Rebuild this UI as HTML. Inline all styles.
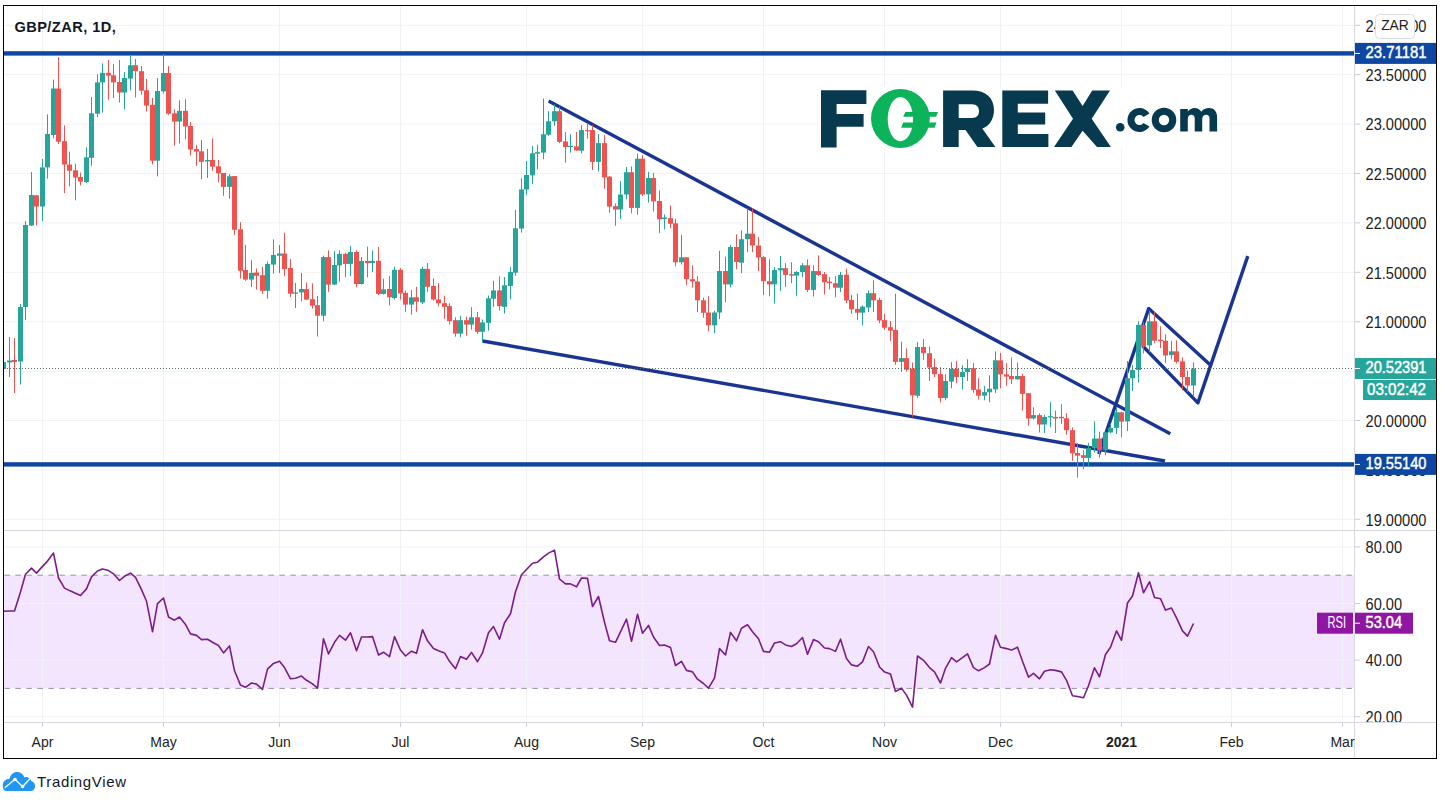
<!DOCTYPE html>
<html><head><meta charset="utf-8"><style>
html,body{margin:0;padding:0;background:#fff;width:1445px;height:805px;overflow:hidden;}
svg{display:block;}
</style></head><body>
<svg width="1445" height="805" viewBox="0 0 1445 805" font-family="'Liberation Sans', sans-serif">
<rect x="0" y="0" width="1445" height="805" fill="#fff"/>
<rect x="4" y="575.2" width="1350" height="113.2" fill="#f3e5fd"/>
<line x1="42.5" y1="6" x2="42.5" y2="722" stroke="#f1f2f5" stroke-width="1"/>
<line x1="163.5" y1="6" x2="163.5" y2="722" stroke="#f1f2f5" stroke-width="1"/>
<line x1="279.5" y1="6" x2="279.5" y2="722" stroke="#f1f2f5" stroke-width="1"/>
<line x1="400.5" y1="6" x2="400.5" y2="722" stroke="#f1f2f5" stroke-width="1"/>
<line x1="526.5" y1="6" x2="526.5" y2="722" stroke="#f1f2f5" stroke-width="1"/>
<line x1="642.5" y1="6" x2="642.5" y2="722" stroke="#f1f2f5" stroke-width="1"/>
<line x1="763.5" y1="6" x2="763.5" y2="722" stroke="#f1f2f5" stroke-width="1"/>
<line x1="884.5" y1="6" x2="884.5" y2="722" stroke="#f1f2f5" stroke-width="1"/>
<line x1="1000.5" y1="6" x2="1000.5" y2="722" stroke="#f1f2f5" stroke-width="1"/>
<line x1="1121.5" y1="6" x2="1121.5" y2="722" stroke="#f1f2f5" stroke-width="1"/>
<line x1="1231.5" y1="6" x2="1231.5" y2="722" stroke="#f1f2f5" stroke-width="1"/>
<line x1="1342.5" y1="6" x2="1342.5" y2="722" stroke="#f1f2f5" stroke-width="1"/>
<line x1="4" y1="25.3" x2="1354" y2="25.3" stroke="#f1f2f5" stroke-width="1"/>
<line x1="4" y1="74.7" x2="1354" y2="74.7" stroke="#f1f2f5" stroke-width="1"/>
<line x1="4" y1="124.1" x2="1354" y2="124.1" stroke="#f1f2f5" stroke-width="1"/>
<line x1="4" y1="173.5" x2="1354" y2="173.5" stroke="#f1f2f5" stroke-width="1"/>
<line x1="4" y1="222.9" x2="1354" y2="222.9" stroke="#f1f2f5" stroke-width="1"/>
<line x1="4" y1="272.3" x2="1354" y2="272.3" stroke="#f1f2f5" stroke-width="1"/>
<line x1="4" y1="321.7" x2="1354" y2="321.7" stroke="#f1f2f5" stroke-width="1"/>
<line x1="4" y1="371.1" x2="1354" y2="371.1" stroke="#f1f2f5" stroke-width="1"/>
<line x1="4" y1="420.5" x2="1354" y2="420.5" stroke="#f1f2f5" stroke-width="1"/>
<line x1="4" y1="469.9" x2="1354" y2="469.9" stroke="#f1f2f5" stroke-width="1"/>
<line x1="4" y1="519.3" x2="1354" y2="519.3" stroke="#f1f2f5" stroke-width="1"/>
<line x1="4" y1="546.9" x2="1354" y2="546.9" stroke="#f1f2f5" stroke-width="1"/>
<line x1="4" y1="603.5" x2="1354" y2="603.5" stroke="#f1f2f5" stroke-width="1"/>
<line x1="4" y1="660.1" x2="1354" y2="660.1" stroke="#f1f2f5" stroke-width="1"/>
<line x1="4" y1="716.7" x2="1354" y2="716.7" stroke="#f1f2f5" stroke-width="1"/>
<line x1="4.4" y1="575.2" x2="1354" y2="575.2" stroke="#9c8ea6" stroke-width="1" stroke-dasharray="5.5,5.5"/>
<line x1="4.4" y1="688.4" x2="1354" y2="688.4" stroke="#9c8ea6" stroke-width="1" stroke-dasharray="5.5,5.5"/>
<line x1="4" y1="530.5" x2="1436" y2="530.5" stroke="#d6d9e0" stroke-width="1"/>
<line x1="4" y1="722.5" x2="1436" y2="722.5" stroke="#d6d9e0" stroke-width="1"/>
<line x1="1354.5" y1="6" x2="1354.5" y2="758" stroke="#d6d9e0" stroke-width="1"/>
<rect x="4" y="51.2" width="1350" height="4.4" fill="#0d47a1"/>
<rect x="4" y="462.2" width="1350" height="4.4" fill="#0d47a1"/>
<line x1="548.6" y1="101" x2="1170.3" y2="433.7" stroke="#1a3492" stroke-width="3.4" stroke-linecap="butt"/>
<line x1="482.6" y1="341" x2="1165" y2="461" stroke="#1a3492" stroke-width="3.4" stroke-linecap="butt"/>
<polyline points="1098.7,454.1 1148.7,308.6 1209.8,364.4" fill="none" stroke="#1a3492" stroke-width="3.4" stroke-linejoin="round"/>
<polyline points="1142.7,346 1197.9,402.9 1247.8,256.1" fill="none" stroke="#1a3492" stroke-width="3.4" stroke-linejoin="round"/>
<g>
<rect x="3" y="360.0" width="1" height="12.0" fill="#26a69a"/>
<rect x="1" y="362.0" width="5" height="7.0" fill="#26a69a"/>
<rect x="9" y="337.0" width="1" height="40.0" fill="#26a69a"/>
<rect x="7" y="360.5" width="5" height="2.0" fill="#26a69a"/>
<rect x="14" y="338.0" width="1" height="55.0" fill="#ef5350"/>
<rect x="12" y="360.0" width="5" height="2.0" fill="#ef5350"/>
<rect x="20" y="304.0" width="1" height="80.5" fill="#26a69a"/>
<rect x="18" y="307.0" width="5" height="54.5" fill="#26a69a"/>
<rect x="25" y="221.0" width="1" height="99.0" fill="#26a69a"/>
<rect x="23" y="225.0" width="5" height="82.0" fill="#26a69a"/>
<rect x="31" y="172.0" width="1" height="54.0" fill="#26a69a"/>
<rect x="29" y="195.0" width="5" height="30.5" fill="#26a69a"/>
<rect x="36" y="195.0" width="1" height="30.5" fill="#ef5350"/>
<rect x="34" y="195.3" width="5" height="11.2" fill="#ef5350"/>
<rect x="42" y="159.0" width="1" height="62.0" fill="#26a69a"/>
<rect x="40" y="167.4" width="5" height="39.1" fill="#26a69a"/>
<rect x="47" y="114.4" width="1" height="64.2" fill="#26a69a"/>
<rect x="45" y="134.0" width="5" height="33.4" fill="#26a69a"/>
<rect x="53" y="79.7" width="1" height="58.6" fill="#26a69a"/>
<rect x="51" y="88.5" width="5" height="46.5" fill="#26a69a"/>
<rect x="58" y="57.2" width="1" height="86.7" fill="#ef5350"/>
<rect x="56" y="88.5" width="5" height="53.2" fill="#ef5350"/>
<rect x="64" y="125.4" width="1" height="67.7" fill="#ef5350"/>
<rect x="62" y="141.2" width="5" height="23.3" fill="#ef5350"/>
<rect x="69" y="151.7" width="1" height="34.7" fill="#ef5350"/>
<rect x="67" y="164.5" width="5" height="6.3" fill="#ef5350"/>
<rect x="75" y="163.6" width="1" height="36.7" fill="#ef5350"/>
<rect x="73" y="170.3" width="5" height="7.2" fill="#ef5350"/>
<rect x="80" y="172.5" width="1" height="12.8" fill="#ef5350"/>
<rect x="78" y="177.0" width="5" height="4.5" fill="#ef5350"/>
<rect x="86" y="147.3" width="1" height="35.7" fill="#26a69a"/>
<rect x="84" y="157.3" width="5" height="24.7" fill="#26a69a"/>
<rect x="91" y="97.0" width="1" height="68.8" fill="#26a69a"/>
<rect x="89" y="113.3" width="5" height="44.5" fill="#26a69a"/>
<rect x="97" y="74.2" width="1" height="42.8" fill="#26a69a"/>
<rect x="95" y="82.4" width="5" height="31.3" fill="#26a69a"/>
<rect x="102" y="63.4" width="1" height="49.2" fill="#26a69a"/>
<rect x="100" y="72.8" width="5" height="9.6" fill="#26a69a"/>
<rect x="108" y="60.0" width="1" height="39.6" fill="#ef5350"/>
<rect x="106" y="72.8" width="5" height="2.9" fill="#ef5350"/>
<rect x="113" y="63.9" width="1" height="34.1" fill="#ef5350"/>
<rect x="111" y="75.3" width="5" height="7.1" fill="#ef5350"/>
<rect x="119" y="60.0" width="1" height="42.5" fill="#ef5350"/>
<rect x="117" y="82.0" width="5" height="10.5" fill="#ef5350"/>
<rect x="124" y="72.0" width="1" height="37.3" fill="#26a69a"/>
<rect x="122" y="78.0" width="5" height="14.5" fill="#26a69a"/>
<rect x="130" y="55.6" width="1" height="34.7" fill="#26a69a"/>
<rect x="128" y="65.2" width="5" height="13.4" fill="#26a69a"/>
<rect x="135" y="59.0" width="1" height="38.4" fill="#ef5350"/>
<rect x="133" y="65.2" width="5" height="6.0" fill="#ef5350"/>
<rect x="141" y="66.0" width="1" height="28.7" fill="#ef5350"/>
<rect x="139" y="71.2" width="5" height="19.5" fill="#ef5350"/>
<rect x="146" y="79.0" width="1" height="32.5" fill="#ef5350"/>
<rect x="144" y="90.3" width="5" height="15.2" fill="#ef5350"/>
<rect x="152" y="98.0" width="1" height="66.5" fill="#ef5350"/>
<rect x="150" y="104.8" width="5" height="55.9" fill="#ef5350"/>
<rect x="157" y="78.0" width="1" height="98.3" fill="#26a69a"/>
<rect x="155" y="91.0" width="5" height="69.7" fill="#26a69a"/>
<rect x="163" y="54.0" width="1" height="39.6" fill="#26a69a"/>
<rect x="161" y="73.0" width="5" height="18.4" fill="#26a69a"/>
<rect x="168" y="66.1" width="1" height="48.7" fill="#ef5350"/>
<rect x="166" y="73.0" width="5" height="40.7" fill="#ef5350"/>
<rect x="174" y="109.3" width="1" height="36.4" fill="#ef5350"/>
<rect x="172" y="113.3" width="5" height="8.3" fill="#ef5350"/>
<rect x="179" y="100.3" width="1" height="43.2" fill="#26a69a"/>
<rect x="177" y="110.8" width="5" height="10.8" fill="#26a69a"/>
<rect x="185" y="99.2" width="1" height="40.2" fill="#ef5350"/>
<rect x="183" y="110.8" width="5" height="15.7" fill="#ef5350"/>
<rect x="190" y="122.0" width="1" height="33.5" fill="#ef5350"/>
<rect x="188" y="126.0" width="5" height="23.5" fill="#ef5350"/>
<rect x="196" y="145.0" width="1" height="20.8" fill="#ef5350"/>
<rect x="194" y="149.0" width="5" height="2.7" fill="#ef5350"/>
<rect x="201" y="139.9" width="1" height="39.3" fill="#ef5350"/>
<rect x="199" y="151.3" width="5" height="10.5" fill="#ef5350"/>
<rect x="207" y="149.0" width="1" height="28.9" fill="#26a69a"/>
<rect x="205" y="160.0" width="5" height="1.4" fill="#26a69a"/>
<rect x="212" y="138.3" width="1" height="32.4" fill="#ef5350"/>
<rect x="210" y="160.0" width="5" height="6.7" fill="#ef5350"/>
<rect x="218" y="160.0" width="1" height="22.4" fill="#ef5350"/>
<rect x="216" y="166.3" width="5" height="7.1" fill="#ef5350"/>
<rect x="223" y="173.0" width="1" height="22.8" fill="#ef5350"/>
<rect x="221" y="173.0" width="5" height="13.9" fill="#ef5350"/>
<rect x="229" y="174.1" width="1" height="24.6" fill="#26a69a"/>
<rect x="227" y="176.3" width="5" height="10.6" fill="#26a69a"/>
<rect x="234" y="176.0" width="1" height="58.9" fill="#ef5350"/>
<rect x="232" y="176.1" width="5" height="53.7" fill="#ef5350"/>
<rect x="240" y="222.2" width="1" height="56.3" fill="#ef5350"/>
<rect x="238" y="229.3" width="5" height="41.4" fill="#ef5350"/>
<rect x="245" y="245.0" width="1" height="35.8" fill="#ef5350"/>
<rect x="243" y="270.0" width="5" height="9.6" fill="#ef5350"/>
<rect x="251" y="260.2" width="1" height="26.8" fill="#26a69a"/>
<rect x="249" y="272.9" width="5" height="6.7" fill="#26a69a"/>
<rect x="256" y="268.5" width="1" height="21.2" fill="#ef5350"/>
<rect x="254" y="272.5" width="5" height="3.3" fill="#ef5350"/>
<rect x="262" y="266.9" width="1" height="26.8" fill="#ef5350"/>
<rect x="260" y="275.2" width="5" height="15.6" fill="#ef5350"/>
<rect x="267" y="261.7" width="1" height="36.9" fill="#26a69a"/>
<rect x="265" y="264.0" width="5" height="26.8" fill="#26a69a"/>
<rect x="273" y="239.4" width="1" height="34.2" fill="#26a69a"/>
<rect x="271" y="255.0" width="5" height="9.6" fill="#26a69a"/>
<rect x="279" y="245.0" width="1" height="27.9" fill="#26a69a"/>
<rect x="277" y="253.5" width="5" height="2.2" fill="#26a69a"/>
<rect x="284" y="232.7" width="1" height="43.1" fill="#ef5350"/>
<rect x="282" y="253.5" width="5" height="15.6" fill="#ef5350"/>
<rect x="290" y="259.0" width="1" height="37.9" fill="#ef5350"/>
<rect x="288" y="268.0" width="5" height="25.7" fill="#ef5350"/>
<rect x="295" y="283.0" width="1" height="25.0" fill="#26a69a"/>
<rect x="293" y="292.4" width="5" height="1.3" fill="#26a69a"/>
<rect x="301" y="272.9" width="1" height="28.4" fill="#26a69a"/>
<rect x="299" y="289.0" width="5" height="3.4" fill="#26a69a"/>
<rect x="306" y="282.4" width="1" height="17.6" fill="#ef5350"/>
<rect x="304" y="289.1" width="5" height="10.5" fill="#ef5350"/>
<rect x="312" y="283.3" width="1" height="25.3" fill="#ef5350"/>
<rect x="310" y="299.2" width="5" height="6.5" fill="#ef5350"/>
<rect x="317" y="295.8" width="1" height="40.7" fill="#ef5350"/>
<rect x="315" y="305.2" width="5" height="10.5" fill="#ef5350"/>
<rect x="323" y="255.6" width="1" height="65.7" fill="#26a69a"/>
<rect x="321" y="257.1" width="5" height="58.6" fill="#26a69a"/>
<rect x="328" y="250.4" width="1" height="41.4" fill="#ef5350"/>
<rect x="326" y="257.1" width="5" height="27.5" fill="#ef5350"/>
<rect x="334" y="251.1" width="1" height="33.9" fill="#26a69a"/>
<rect x="332" y="265.0" width="5" height="19.6" fill="#26a69a"/>
<rect x="339" y="250.4" width="1" height="31.3" fill="#26a69a"/>
<rect x="337" y="253.8" width="5" height="11.6" fill="#26a69a"/>
<rect x="345" y="252.7" width="1" height="24.6" fill="#ef5350"/>
<rect x="343" y="253.8" width="5" height="10.1" fill="#ef5350"/>
<rect x="350" y="246.0" width="1" height="30.2" fill="#26a69a"/>
<rect x="348" y="252.0" width="5" height="11.9" fill="#26a69a"/>
<rect x="356" y="250.4" width="1" height="36.9" fill="#ef5350"/>
<rect x="354" y="252.0" width="5" height="32.0" fill="#ef5350"/>
<rect x="361" y="257.1" width="1" height="27.4" fill="#26a69a"/>
<rect x="359" y="261.0" width="5" height="23.0" fill="#26a69a"/>
<rect x="367" y="246.6" width="1" height="30.7" fill="#ef5350"/>
<rect x="365" y="261.0" width="5" height="2.2" fill="#ef5350"/>
<rect x="372" y="250.3" width="1" height="21.7" fill="#26a69a"/>
<rect x="370" y="260.8" width="5" height="2.2" fill="#26a69a"/>
<rect x="378" y="247.0" width="1" height="48.0" fill="#ef5350"/>
<rect x="376" y="260.8" width="5" height="33.1" fill="#ef5350"/>
<rect x="383" y="278.7" width="1" height="15.8" fill="#26a69a"/>
<rect x="381" y="289.4" width="5" height="4.5" fill="#26a69a"/>
<rect x="389" y="276.0" width="1" height="29.5" fill="#ef5350"/>
<rect x="387" y="289.0" width="5" height="8.3" fill="#ef5350"/>
<rect x="394" y="266.6" width="1" height="32.9" fill="#26a69a"/>
<rect x="392" y="269.8" width="5" height="28.2" fill="#26a69a"/>
<rect x="400" y="268.2" width="1" height="31.3" fill="#ef5350"/>
<rect x="398" y="269.8" width="5" height="23.7" fill="#ef5350"/>
<rect x="405" y="290.6" width="1" height="21.2" fill="#ef5350"/>
<rect x="403" y="292.8" width="5" height="11.8" fill="#ef5350"/>
<rect x="411" y="289.9" width="1" height="24.6" fill="#26a69a"/>
<rect x="409" y="297.3" width="5" height="7.3" fill="#26a69a"/>
<rect x="416" y="286.8" width="1" height="25.0" fill="#ef5350"/>
<rect x="414" y="297.3" width="5" height="4.4" fill="#ef5350"/>
<rect x="422" y="266.6" width="1" height="37.4" fill="#26a69a"/>
<rect x="420" y="268.9" width="5" height="33.5" fill="#26a69a"/>
<rect x="427" y="263.0" width="1" height="28.7" fill="#ef5350"/>
<rect x="425" y="268.9" width="5" height="17.9" fill="#ef5350"/>
<rect x="433" y="278.3" width="1" height="22.3" fill="#ef5350"/>
<rect x="431" y="286.0" width="5" height="13.5" fill="#ef5350"/>
<rect x="438" y="283.2" width="1" height="23.0" fill="#ef5350"/>
<rect x="436" y="299.5" width="5" height="3.8" fill="#ef5350"/>
<rect x="444" y="295.6" width="1" height="23.2" fill="#ef5350"/>
<rect x="442" y="303.2" width="5" height="3.6" fill="#ef5350"/>
<rect x="449" y="303.2" width="1" height="21.4" fill="#ef5350"/>
<rect x="447" y="306.1" width="5" height="15.0" fill="#ef5350"/>
<rect x="455" y="317.3" width="1" height="19.4" fill="#ef5350"/>
<rect x="453" y="320.2" width="5" height="13.4" fill="#ef5350"/>
<rect x="460" y="315.7" width="1" height="21.7" fill="#26a69a"/>
<rect x="458" y="320.2" width="5" height="13.4" fill="#26a69a"/>
<rect x="466" y="316.6" width="1" height="19.2" fill="#ef5350"/>
<rect x="464" y="320.2" width="5" height="4.4" fill="#ef5350"/>
<rect x="471" y="307.2" width="1" height="22.4" fill="#26a69a"/>
<rect x="469" y="317.3" width="5" height="7.3" fill="#26a69a"/>
<rect x="477" y="312.1" width="1" height="21.9" fill="#ef5350"/>
<rect x="475" y="317.3" width="5" height="14.5" fill="#ef5350"/>
<rect x="482" y="319.5" width="1" height="23.0" fill="#26a69a"/>
<rect x="480" y="322.4" width="5" height="9.4" fill="#26a69a"/>
<rect x="488" y="295.6" width="1" height="35.1" fill="#26a69a"/>
<rect x="486" y="298.3" width="5" height="24.6" fill="#26a69a"/>
<rect x="493" y="280.8" width="1" height="26.0" fill="#26a69a"/>
<rect x="491" y="290.4" width="5" height="8.3" fill="#26a69a"/>
<rect x="499" y="276.4" width="1" height="34.2" fill="#ef5350"/>
<rect x="497" y="290.4" width="5" height="15.7" fill="#ef5350"/>
<rect x="504" y="277.0" width="1" height="36.5" fill="#26a69a"/>
<rect x="502" y="285.3" width="5" height="21.5" fill="#26a69a"/>
<rect x="510" y="267.0" width="1" height="32.4" fill="#26a69a"/>
<rect x="508" y="271.9" width="5" height="14.1" fill="#26a69a"/>
<rect x="515" y="210.0" width="1" height="65.8" fill="#26a69a"/>
<rect x="513" y="228.3" width="5" height="44.4" fill="#26a69a"/>
<rect x="521" y="178.3" width="1" height="54.2" fill="#26a69a"/>
<rect x="519" y="189.5" width="5" height="39.1" fill="#26a69a"/>
<rect x="526" y="161.1" width="1" height="34.0" fill="#26a69a"/>
<rect x="524" y="175.0" width="5" height="14.5" fill="#26a69a"/>
<rect x="532" y="145.9" width="1" height="38.0" fill="#26a69a"/>
<rect x="530" y="153.3" width="5" height="22.1" fill="#26a69a"/>
<rect x="537" y="144.8" width="1" height="24.6" fill="#26a69a"/>
<rect x="535" y="152.2" width="5" height="1.5" fill="#26a69a"/>
<rect x="543" y="98.5" width="1" height="60.8" fill="#26a69a"/>
<rect x="541" y="134.3" width="5" height="18.3" fill="#26a69a"/>
<rect x="548" y="111.2" width="1" height="24.6" fill="#26a69a"/>
<rect x="546" y="121.3" width="5" height="13.4" fill="#26a69a"/>
<rect x="554" y="104.5" width="1" height="21.3" fill="#26a69a"/>
<rect x="552" y="111.2" width="5" height="10.1" fill="#26a69a"/>
<rect x="559" y="106.8" width="1" height="36.4" fill="#ef5350"/>
<rect x="557" y="111.2" width="5" height="30.7" fill="#ef5350"/>
<rect x="565" y="132.0" width="1" height="30.7" fill="#ef5350"/>
<rect x="563" y="141.4" width="5" height="5.6" fill="#ef5350"/>
<rect x="570" y="134.3" width="1" height="18.3" fill="#26a69a"/>
<rect x="568" y="145.8" width="5" height="1.2" fill="#26a69a"/>
<rect x="576" y="132.0" width="1" height="19.0" fill="#ef5350"/>
<rect x="574" y="146.4" width="5" height="4.0" fill="#ef5350"/>
<rect x="581" y="125.2" width="1" height="28.4" fill="#26a69a"/>
<rect x="579" y="130.1" width="5" height="20.6" fill="#26a69a"/>
<rect x="587" y="123.0" width="1" height="15.6" fill="#ef5350"/>
<rect x="585" y="130.1" width="5" height="1.2" fill="#ef5350"/>
<rect x="592" y="125.2" width="1" height="44.8" fill="#ef5350"/>
<rect x="590" y="130.1" width="5" height="31.8" fill="#ef5350"/>
<rect x="598" y="134.1" width="1" height="37.4" fill="#26a69a"/>
<rect x="596" y="143.1" width="5" height="18.8" fill="#26a69a"/>
<rect x="604" y="135.0" width="1" height="53.7" fill="#ef5350"/>
<rect x="602" y="143.1" width="5" height="34.4" fill="#ef5350"/>
<rect x="609" y="176.0" width="1" height="36.9" fill="#ef5350"/>
<rect x="607" y="176.6" width="5" height="30.0" fill="#ef5350"/>
<rect x="615" y="203.5" width="1" height="22.3" fill="#ef5350"/>
<rect x="613" y="206.2" width="5" height="3.3" fill="#ef5350"/>
<rect x="620" y="181.1" width="1" height="38.0" fill="#26a69a"/>
<rect x="618" y="194.5" width="5" height="15.0" fill="#26a69a"/>
<rect x="626" y="167.0" width="1" height="32.4" fill="#26a69a"/>
<rect x="624" y="172.2" width="5" height="22.3" fill="#26a69a"/>
<rect x="631" y="166.4" width="1" height="46.9" fill="#ef5350"/>
<rect x="629" y="172.2" width="5" height="35.7" fill="#ef5350"/>
<rect x="637" y="153.6" width="1" height="61.1" fill="#26a69a"/>
<rect x="635" y="158.7" width="5" height="49.2" fill="#26a69a"/>
<rect x="642" y="155.2" width="1" height="40.9" fill="#ef5350"/>
<rect x="640" y="158.7" width="5" height="35.8" fill="#ef5350"/>
<rect x="648" y="171.9" width="1" height="30.6" fill="#26a69a"/>
<rect x="646" y="178.0" width="5" height="16.3" fill="#26a69a"/>
<rect x="653" y="172.8" width="1" height="38.7" fill="#ef5350"/>
<rect x="651" y="178.0" width="5" height="23.4" fill="#ef5350"/>
<rect x="659" y="190.2" width="1" height="43.0" fill="#ef5350"/>
<rect x="657" y="201.0" width="5" height="18.3" fill="#ef5350"/>
<rect x="664" y="214.4" width="1" height="15.0" fill="#26a69a"/>
<rect x="662" y="217.5" width="5" height="1.5" fill="#26a69a"/>
<rect x="670" y="205.5" width="1" height="22.8" fill="#ef5350"/>
<rect x="668" y="218.2" width="5" height="5.6" fill="#ef5350"/>
<rect x="675" y="218.9" width="1" height="47.4" fill="#ef5350"/>
<rect x="673" y="223.3" width="5" height="39.0" fill="#ef5350"/>
<rect x="681" y="235.0" width="1" height="29.5" fill="#26a69a"/>
<rect x="679" y="257.3" width="5" height="5.0" fill="#26a69a"/>
<rect x="686" y="257.0" width="1" height="28.3" fill="#ef5350"/>
<rect x="684" y="257.3" width="5" height="21.9" fill="#ef5350"/>
<rect x="692" y="265.2" width="1" height="22.3" fill="#ef5350"/>
<rect x="690" y="279.2" width="5" height="2.3" fill="#ef5350"/>
<rect x="697" y="276.3" width="1" height="35.8" fill="#ef5350"/>
<rect x="695" y="281.5" width="5" height="18.8" fill="#ef5350"/>
<rect x="703" y="297.6" width="1" height="20.1" fill="#ef5350"/>
<rect x="701" y="300.3" width="5" height="12.5" fill="#ef5350"/>
<rect x="708" y="296.2" width="1" height="35.1" fill="#ef5350"/>
<rect x="706" y="312.5" width="5" height="12.8" fill="#ef5350"/>
<rect x="714" y="310.8" width="1" height="22.3" fill="#26a69a"/>
<rect x="712" y="312.5" width="5" height="12.8" fill="#26a69a"/>
<rect x="719" y="250.8" width="1" height="68.4" fill="#26a69a"/>
<rect x="717" y="271.0" width="5" height="41.5" fill="#26a69a"/>
<rect x="725" y="256.6" width="1" height="45.7" fill="#ef5350"/>
<rect x="723" y="271.0" width="5" height="13.4" fill="#ef5350"/>
<rect x="730" y="244.8" width="1" height="42.5" fill="#26a69a"/>
<rect x="728" y="247.0" width="5" height="37.4" fill="#26a69a"/>
<rect x="736" y="234.3" width="1" height="35.1" fill="#ef5350"/>
<rect x="734" y="247.0" width="5" height="15.0" fill="#ef5350"/>
<rect x="741" y="230.3" width="1" height="42.9" fill="#26a69a"/>
<rect x="739" y="239.2" width="5" height="23.5" fill="#26a69a"/>
<rect x="747" y="208.3" width="1" height="43.9" fill="#26a69a"/>
<rect x="745" y="233.6" width="5" height="5.6" fill="#26a69a"/>
<rect x="752" y="208.3" width="1" height="43.9" fill="#ef5350"/>
<rect x="750" y="233.6" width="5" height="11.9" fill="#ef5350"/>
<rect x="758" y="237.0" width="1" height="34.0" fill="#ef5350"/>
<rect x="756" y="245.5" width="5" height="12.0" fill="#ef5350"/>
<rect x="763" y="256.0" width="1" height="39.1" fill="#ef5350"/>
<rect x="761" y="257.1" width="5" height="24.1" fill="#ef5350"/>
<rect x="769" y="259.3" width="1" height="36.9" fill="#ef5350"/>
<rect x="767" y="281.2" width="5" height="3.2" fill="#ef5350"/>
<rect x="774" y="267.1" width="1" height="36.5" fill="#26a69a"/>
<rect x="772" y="270.0" width="5" height="14.4" fill="#26a69a"/>
<rect x="780" y="255.9" width="1" height="35.3" fill="#26a69a"/>
<rect x="778" y="268.2" width="5" height="2.2" fill="#26a69a"/>
<rect x="785" y="263.1" width="1" height="23.7" fill="#ef5350"/>
<rect x="783" y="268.2" width="5" height="6.7" fill="#ef5350"/>
<rect x="791" y="262.2" width="1" height="21.0" fill="#ef5350"/>
<rect x="789" y="274.2" width="5" height="1.4" fill="#ef5350"/>
<rect x="796" y="271.1" width="1" height="24.6" fill="#26a69a"/>
<rect x="794" y="272.0" width="5" height="3.6" fill="#26a69a"/>
<rect x="802" y="263.1" width="1" height="14.0" fill="#26a69a"/>
<rect x="800" y="265.3" width="5" height="6.7" fill="#26a69a"/>
<rect x="807" y="259.3" width="1" height="32.8" fill="#ef5350"/>
<rect x="805" y="265.3" width="5" height="24.6" fill="#ef5350"/>
<rect x="813" y="265.3" width="1" height="31.3" fill="#26a69a"/>
<rect x="811" y="271.1" width="5" height="18.8" fill="#26a69a"/>
<rect x="818" y="255.5" width="1" height="20.5" fill="#ef5350"/>
<rect x="816" y="271.1" width="5" height="3.8" fill="#ef5350"/>
<rect x="824" y="272.0" width="1" height="22.4" fill="#ef5350"/>
<rect x="822" y="274.2" width="5" height="8.1" fill="#ef5350"/>
<rect x="829" y="277.1" width="1" height="12.3" fill="#ef5350"/>
<rect x="827" y="281.6" width="5" height="1.6" fill="#ef5350"/>
<rect x="835" y="276.0" width="1" height="21.3" fill="#ef5350"/>
<rect x="833" y="283.2" width="5" height="4.5" fill="#ef5350"/>
<rect x="840" y="272.0" width="1" height="20.1" fill="#26a69a"/>
<rect x="838" y="274.9" width="5" height="12.8" fill="#26a69a"/>
<rect x="846" y="268.6" width="1" height="34.5" fill="#ef5350"/>
<rect x="844" y="274.7" width="5" height="25.7" fill="#ef5350"/>
<rect x="851" y="294.8" width="1" height="19.0" fill="#ef5350"/>
<rect x="849" y="299.9" width="5" height="9.4" fill="#ef5350"/>
<rect x="857" y="293.7" width="1" height="26.4" fill="#ef5350"/>
<rect x="855" y="308.9" width="5" height="3.8" fill="#ef5350"/>
<rect x="862" y="305.3" width="1" height="20.1" fill="#26a69a"/>
<rect x="860" y="306.6" width="5" height="6.1" fill="#26a69a"/>
<rect x="868" y="290.3" width="1" height="21.7" fill="#26a69a"/>
<rect x="866" y="293.2" width="5" height="14.3" fill="#26a69a"/>
<rect x="873" y="280.3" width="1" height="31.7" fill="#ef5350"/>
<rect x="871" y="293.2" width="5" height="7.2" fill="#ef5350"/>
<rect x="879" y="297.7" width="1" height="25.5" fill="#ef5350"/>
<rect x="877" y="299.9" width="5" height="20.6" fill="#ef5350"/>
<rect x="884" y="313.8" width="1" height="16.1" fill="#ef5350"/>
<rect x="882" y="320.1" width="5" height="7.6" fill="#ef5350"/>
<rect x="890" y="321.0" width="1" height="20.1" fill="#ef5350"/>
<rect x="888" y="327.2" width="5" height="3.4" fill="#ef5350"/>
<rect x="895" y="293.7" width="1" height="71.1" fill="#ef5350"/>
<rect x="893" y="329.9" width="5" height="32.0" fill="#ef5350"/>
<rect x="901" y="341.7" width="1" height="30.2" fill="#26a69a"/>
<rect x="899" y="358.1" width="5" height="3.8" fill="#26a69a"/>
<rect x="906" y="348.5" width="1" height="23.0" fill="#ef5350"/>
<rect x="904" y="358.1" width="5" height="11.6" fill="#ef5350"/>
<rect x="912" y="362.5" width="1" height="54.2" fill="#ef5350"/>
<rect x="910" y="368.6" width="5" height="26.8" fill="#ef5350"/>
<rect x="917" y="342.0" width="1" height="56.0" fill="#26a69a"/>
<rect x="915" y="347.0" width="5" height="48.7" fill="#26a69a"/>
<rect x="923" y="339.1" width="1" height="20.8" fill="#ef5350"/>
<rect x="921" y="347.0" width="5" height="6.2" fill="#ef5350"/>
<rect x="929" y="346.5" width="1" height="34.5" fill="#ef5350"/>
<rect x="927" y="353.2" width="5" height="14.3" fill="#ef5350"/>
<rect x="934" y="358.6" width="1" height="18.5" fill="#ef5350"/>
<rect x="932" y="367.1" width="5" height="7.1" fill="#ef5350"/>
<rect x="940" y="367.1" width="1" height="35.3" fill="#ef5350"/>
<rect x="938" y="374.2" width="5" height="23.8" fill="#ef5350"/>
<rect x="945" y="374.2" width="1" height="26.0" fill="#26a69a"/>
<rect x="943" y="381.0" width="5" height="17.0" fill="#26a69a"/>
<rect x="951" y="362.2" width="1" height="26.1" fill="#26a69a"/>
<rect x="949" y="368.9" width="5" height="12.7" fill="#26a69a"/>
<rect x="956" y="360.8" width="1" height="22.4" fill="#ef5350"/>
<rect x="954" y="368.9" width="5" height="8.2" fill="#ef5350"/>
<rect x="962" y="365.3" width="1" height="24.1" fill="#26a69a"/>
<rect x="960" y="372.0" width="5" height="5.1" fill="#26a69a"/>
<rect x="967" y="359.3" width="1" height="21.7" fill="#26a69a"/>
<rect x="965" y="368.2" width="5" height="3.8" fill="#26a69a"/>
<rect x="973" y="363.1" width="1" height="29.7" fill="#ef5350"/>
<rect x="971" y="368.2" width="5" height="21.7" fill="#ef5350"/>
<rect x="978" y="378.3" width="1" height="21.2" fill="#ef5350"/>
<rect x="976" y="389.4" width="5" height="6.3" fill="#ef5350"/>
<rect x="984" y="386.1" width="1" height="14.1" fill="#26a69a"/>
<rect x="982" y="392.1" width="5" height="3.6" fill="#26a69a"/>
<rect x="989" y="375.3" width="1" height="26.8" fill="#26a69a"/>
<rect x="987" y="388.7" width="5" height="3.6" fill="#26a69a"/>
<rect x="995" y="351.4" width="1" height="41.8" fill="#26a69a"/>
<rect x="993" y="360.3" width="5" height="29.1" fill="#26a69a"/>
<rect x="1000" y="352.9" width="1" height="35.4" fill="#ef5350"/>
<rect x="998" y="360.3" width="5" height="14.1" fill="#ef5350"/>
<rect x="1006" y="363.2" width="1" height="22.4" fill="#ef5350"/>
<rect x="1004" y="374.4" width="5" height="2.2" fill="#ef5350"/>
<rect x="1011" y="357.4" width="1" height="26.4" fill="#ef5350"/>
<rect x="1009" y="376.0" width="5" height="3.3" fill="#ef5350"/>
<rect x="1017" y="362.5" width="1" height="17.3" fill="#26a69a"/>
<rect x="1015" y="376.0" width="5" height="3.3" fill="#26a69a"/>
<rect x="1022" y="373.7" width="1" height="36.9" fill="#ef5350"/>
<rect x="1020" y="376.0" width="5" height="17.9" fill="#ef5350"/>
<rect x="1028" y="393.0" width="1" height="32.8" fill="#ef5350"/>
<rect x="1026" y="393.2" width="5" height="25.3" fill="#ef5350"/>
<rect x="1033" y="407.3" width="1" height="12.3" fill="#26a69a"/>
<rect x="1031" y="415.1" width="5" height="3.4" fill="#26a69a"/>
<rect x="1039" y="413.3" width="1" height="19.2" fill="#ef5350"/>
<rect x="1037" y="415.1" width="5" height="9.4" fill="#ef5350"/>
<rect x="1044" y="414.7" width="1" height="18.3" fill="#26a69a"/>
<rect x="1042" y="416.9" width="5" height="7.6" fill="#26a69a"/>
<rect x="1050" y="402.1" width="1" height="25.3" fill="#26a69a"/>
<rect x="1048" y="416.2" width="5" height="1.2" fill="#26a69a"/>
<rect x="1055" y="410.6" width="1" height="22.4" fill="#ef5350"/>
<rect x="1053" y="416.9" width="5" height="1.6" fill="#ef5350"/>
<rect x="1061" y="404.2" width="1" height="19.7" fill="#ef5350"/>
<rect x="1059" y="416.8" width="5" height="1.5" fill="#ef5350"/>
<rect x="1066" y="413.2" width="1" height="21.5" fill="#ef5350"/>
<rect x="1064" y="418.3" width="5" height="11.9" fill="#ef5350"/>
<rect x="1072" y="427.3" width="1" height="33.5" fill="#ef5350"/>
<rect x="1070" y="430.2" width="5" height="23.2" fill="#ef5350"/>
<rect x="1077" y="442.9" width="1" height="34.7" fill="#ef5350"/>
<rect x="1075" y="453.0" width="5" height="2.7" fill="#ef5350"/>
<rect x="1083" y="450.3" width="1" height="18.8" fill="#ef5350"/>
<rect x="1081" y="455.2" width="5" height="2.7" fill="#ef5350"/>
<rect x="1088" y="442.9" width="1" height="23.5" fill="#26a69a"/>
<rect x="1086" y="448.1" width="5" height="9.8" fill="#26a69a"/>
<rect x="1094" y="421.2" width="1" height="31.3" fill="#26a69a"/>
<rect x="1092" y="438.5" width="5" height="9.6" fill="#26a69a"/>
<rect x="1099" y="431.7" width="1" height="26.2" fill="#ef5350"/>
<rect x="1097" y="438.5" width="5" height="11.8" fill="#ef5350"/>
<rect x="1105" y="431.7" width="1" height="23.5" fill="#26a69a"/>
<rect x="1103" y="432.4" width="5" height="17.9" fill="#26a69a"/>
<rect x="1110" y="423.5" width="1" height="9.8" fill="#26a69a"/>
<rect x="1108" y="427.9" width="5" height="4.5" fill="#26a69a"/>
<rect x="1116" y="407.1" width="1" height="26.9" fill="#26a69a"/>
<rect x="1114" y="412.3" width="5" height="15.6" fill="#26a69a"/>
<rect x="1121" y="412.0" width="1" height="25.3" fill="#ef5350"/>
<rect x="1119" y="412.3" width="5" height="9.4" fill="#ef5350"/>
<rect x="1127" y="361.0" width="1" height="70.1" fill="#26a69a"/>
<rect x="1125" y="378.3" width="5" height="43.1" fill="#26a69a"/>
<rect x="1132" y="365.0" width="1" height="26.0" fill="#26a69a"/>
<rect x="1130" y="369.9" width="5" height="8.4" fill="#26a69a"/>
<rect x="1138" y="321.3" width="1" height="61.2" fill="#26a69a"/>
<rect x="1136" y="324.9" width="5" height="45.0" fill="#26a69a"/>
<rect x="1143" y="322.1" width="1" height="31.3" fill="#ef5350"/>
<rect x="1141" y="324.9" width="5" height="21.7" fill="#ef5350"/>
<rect x="1149" y="310.7" width="1" height="41.6" fill="#26a69a"/>
<rect x="1147" y="321.3" width="5" height="24.1" fill="#26a69a"/>
<rect x="1154" y="312.2" width="1" height="31.0" fill="#ef5350"/>
<rect x="1152" y="321.3" width="5" height="19.4" fill="#ef5350"/>
<rect x="1160" y="326.3" width="1" height="21.8" fill="#ef5350"/>
<rect x="1158" y="339.7" width="5" height="1.4" fill="#ef5350"/>
<rect x="1165" y="334.4" width="1" height="28.5" fill="#ef5350"/>
<rect x="1163" y="340.7" width="5" height="14.8" fill="#ef5350"/>
<rect x="1171" y="340.7" width="1" height="18.6" fill="#26a69a"/>
<rect x="1169" y="351.3" width="5" height="3.8" fill="#26a69a"/>
<rect x="1176" y="340.3" width="1" height="23.2" fill="#ef5350"/>
<rect x="1174" y="351.3" width="5" height="10.5" fill="#ef5350"/>
<rect x="1182" y="357.2" width="1" height="33.2" fill="#ef5350"/>
<rect x="1180" y="361.4" width="5" height="15.6" fill="#ef5350"/>
<rect x="1187" y="370.7" width="1" height="21.1" fill="#ef5350"/>
<rect x="1185" y="377.0" width="5" height="8.5" fill="#ef5350"/>
<rect x="1193" y="362.3" width="1" height="34.4" fill="#26a69a"/>
<rect x="1191" y="368.6" width="5" height="16.9" fill="#26a69a"/>
</g>
<line x1="4" y1="368.5" x2="1354" y2="368.5" stroke="#56665f" stroke-width="1" stroke-dasharray="1,2"/>
<polyline points="4.0,611.3 9.5,611.0 14.5,611.0 20.5,592.0 25.5,574.2 31.5,568.1 36.5,573.1 42.5,566.4 47.5,561.1 53.5,553.1 58.5,578.0 64.5,588.1 69.5,590.6 75.5,593.2 80.5,595.5 86.5,588.9 91.5,576.9 97.5,571.0 102.5,568.9 108.5,570.6 113.5,573.8 119.5,580.5 124.5,576.3 130.5,573.1 135.5,577.3 141.5,589.6 146.5,601.2 152.5,631.8 157.5,603.7 163.5,598.0 168.5,617.0 174.5,620.2 179.5,617.0 185.5,624.4 190.5,633.9 196.5,635.4 201.5,639.6 207.5,639.2 212.5,642.3 218.5,645.5 223.5,652.9 229.5,645.9 234.5,670.8 240.5,685.1 245.5,687.3 251.5,683.0 256.5,684.1 262.5,689.4 267.5,669.1 273.5,663.4 279.5,661.3 284.5,667.6 290.5,678.8 295.5,678.2 301.5,676.1 306.5,680.3 312.5,683.9 317.5,688.1 323.5,638.7 328.5,653.9 334.5,642.3 339.5,635.4 345.5,640.2 350.5,632.8 356.5,650.8 361.5,637.0 367.5,637.0 372.5,636.6 378.5,655.0 383.5,652.2 389.5,656.7 394.5,636.6 400.5,650.1 405.5,656.0 411.5,651.2 416.5,653.3 422.5,629.7 427.5,640.8 433.5,648.6 438.5,650.8 444.5,652.9 449.5,661.3 455.5,668.7 460.5,656.5 466.5,659.2 471.5,652.4 477.5,661.7 482.5,652.9 488.5,632.8 493.5,626.5 499.5,639.2 504.5,622.7 510.5,613.8 515.5,591.7 521.5,574.8 526.5,569.5 532.5,563.2 537.5,562.2 543.5,556.9 548.5,553.1 554.5,550.1 559.5,579.0 565.5,583.9 570.5,583.9 576.5,586.8 581.5,578.0 587.5,578.4 592.5,606.5 598.5,596.5 604.5,622.3 609.5,640.8 615.5,642.3 620.5,631.8 626.5,619.1 631.5,641.3 637.5,614.3 642.5,633.2 648.5,625.4 653.5,637.0 659.5,645.5 664.5,645.1 670.5,647.6 675.5,665.5 681.5,661.3 686.5,670.4 692.5,671.9 697.5,679.2 703.5,683.5 708.5,688.1 714.5,678.2 719.5,648.6 725.5,655.0 730.5,632.4 736.5,640.8 741.5,628.2 747.5,624.8 752.5,631.8 758.5,638.7 763.5,651.4 769.5,652.2 774.5,643.0 780.5,641.7 785.5,644.9 791.5,646.5 796.5,643.8 802.5,637.5 807.5,654.3 813.5,639.6 818.5,641.7 824.5,648.0 829.5,648.6 835.5,651.4 840.5,639.2 846.5,658.6 851.5,664.9 857.5,666.2 862.5,661.9 868.5,646.5 873.5,651.8 879.5,667.0 884.5,671.9 890.5,674.0 895.5,691.5 901.5,688.1 906.5,695.1 912.5,707.1 917.5,656.0 923.5,660.3 929.5,667.6 934.5,671.9 940.5,683.0 945.5,668.3 951.5,657.7 956.5,661.9 962.5,657.7 967.5,653.9 973.5,667.6 978.5,670.8 984.5,667.6 989.5,664.0 995.5,635.4 1000.5,647.2 1006.5,648.6 1011.5,650.1 1017.5,647.2 1022.5,661.3 1028.5,677.1 1033.5,673.3 1039.5,678.8 1044.5,671.2 1050.5,669.7 1055.5,670.4 1061.5,671.9 1066.5,680.3 1072.5,695.7 1077.5,696.5 1083.5,697.8 1088.5,685.8 1094.5,667.8 1099.5,676.9 1105.5,654.5 1110.5,647.3 1116.5,630.9 1121.5,640.4 1127.5,603.0 1132.5,596.0 1138.5,572.7 1143.5,592.8 1149.5,581.8 1154.5,597.5 1160.5,598.7 1165.5,610.1 1171.5,608.0 1176.5,617.8 1182.5,630.9 1187.5,636.1 1193.5,623.5" fill="none" stroke="#7a1d8a" stroke-width="1.6" stroke-linejoin="round"/>
<rect x="0" y="0" width="3" height="805" fill="#fff"/>
<rect x="1355" y="6" width="81" height="752" fill="#fff"/>
<line x1="1355" y1="530.5" x2="1436" y2="530.5" stroke="#d6d9e0" stroke-width="1"/>
<line x1="1355" y1="25.3" x2="1360" y2="25.3" stroke="#c8cbd2" stroke-width="1"/>
<text x="1365.5" y="31.6" font-size="15.6" fill="#222" textLength="61.0" lengthAdjust="spacingAndGlyphs">24.00000</text>
<line x1="1355" y1="74.7" x2="1360" y2="74.7" stroke="#c8cbd2" stroke-width="1"/>
<text x="1365.5" y="81.0" font-size="15.6" fill="#222" textLength="61.0" lengthAdjust="spacingAndGlyphs">23.50000</text>
<line x1="1355" y1="124.1" x2="1360" y2="124.1" stroke="#c8cbd2" stroke-width="1"/>
<text x="1365.5" y="130.4" font-size="15.6" fill="#222" textLength="61.0" lengthAdjust="spacingAndGlyphs">23.00000</text>
<line x1="1355" y1="173.5" x2="1360" y2="173.5" stroke="#c8cbd2" stroke-width="1"/>
<text x="1365.5" y="179.8" font-size="15.6" fill="#222" textLength="61.0" lengthAdjust="spacingAndGlyphs">22.50000</text>
<line x1="1355" y1="222.9" x2="1360" y2="222.9" stroke="#c8cbd2" stroke-width="1"/>
<text x="1365.5" y="229.2" font-size="15.6" fill="#222" textLength="61.0" lengthAdjust="spacingAndGlyphs">22.00000</text>
<line x1="1355" y1="272.3" x2="1360" y2="272.3" stroke="#c8cbd2" stroke-width="1"/>
<text x="1365.5" y="278.6" font-size="15.6" fill="#222" textLength="61.0" lengthAdjust="spacingAndGlyphs">21.50000</text>
<line x1="1355" y1="321.7" x2="1360" y2="321.7" stroke="#c8cbd2" stroke-width="1"/>
<text x="1365.5" y="328.0" font-size="15.6" fill="#222" textLength="61.0" lengthAdjust="spacingAndGlyphs">21.00000</text>
<line x1="1355" y1="420.5" x2="1360" y2="420.5" stroke="#c8cbd2" stroke-width="1"/>
<text x="1365.5" y="426.8" font-size="15.6" fill="#222" textLength="61.0" lengthAdjust="spacingAndGlyphs">20.00000</text>
<line x1="1355" y1="469.9" x2="1360" y2="469.9" stroke="#c8cbd2" stroke-width="1"/>
<text x="1365.5" y="476.2" font-size="15.6" fill="#222" textLength="61.0" lengthAdjust="spacingAndGlyphs">19.50000</text>
<line x1="1355" y1="519.3" x2="1360" y2="519.3" stroke="#c8cbd2" stroke-width="1"/>
<text x="1365.5" y="525.6" font-size="15.6" fill="#222" textLength="61.0" lengthAdjust="spacingAndGlyphs">19.00000</text>
<line x1="1355" y1="546.9" x2="1360" y2="546.9" stroke="#c8cbd2" stroke-width="1"/>
<text x="1365.5" y="553.2" font-size="15.6" fill="#222" textLength="36.6" lengthAdjust="spacingAndGlyphs">80.00</text>
<line x1="1355" y1="603.5" x2="1360" y2="603.5" stroke="#c8cbd2" stroke-width="1"/>
<text x="1365.5" y="609.8" font-size="15.6" fill="#222" textLength="36.6" lengthAdjust="spacingAndGlyphs">60.00</text>
<line x1="1355" y1="660.1" x2="1360" y2="660.1" stroke="#c8cbd2" stroke-width="1"/>
<text x="1365.5" y="666.4" font-size="15.6" fill="#222" textLength="36.6" lengthAdjust="spacingAndGlyphs">40.00</text>
<line x1="1355" y1="716.7" x2="1360" y2="716.7" stroke="#c8cbd2" stroke-width="1"/>
<text x="1365.5" y="723.0" font-size="15.6" fill="#222" textLength="36.6" lengthAdjust="spacingAndGlyphs">20.00</text>
<rect x="1355" y="42.9" width="81" height="21" fill="#0d47a1"/>
<line x1="1355" y1="53.4" x2="1360" y2="53.4" stroke="#fff" stroke-width="1"/>
<text x="1365.5" y="58.0" font-size="15.6" fill="#fff" stroke="#fff" stroke-width="0.45" textLength="61.0" lengthAdjust="spacingAndGlyphs">23.71181</text>
<rect x="1355" y="453.9" width="81" height="21" fill="#0d47a1"/>
<line x1="1355" y1="464.4" x2="1360" y2="464.4" stroke="#fff" stroke-width="1"/>
<text x="1365.5" y="469.0" font-size="15.6" fill="#fff" stroke="#fff" stroke-width="0.45" textLength="61.0" lengthAdjust="spacingAndGlyphs">19.55140</text>
<rect x="1355" y="358" width="81" height="21" fill="#26a69a"/>
<line x1="1355" y1="368.5" x2="1360" y2="368.5" stroke="#fff" stroke-width="1"/>
<text x="1365.5" y="373.1" font-size="15.6" fill="#fff" stroke="#fff" stroke-width="0.45" textLength="61.0" lengthAdjust="spacingAndGlyphs">20.52391</text>
<rect x="1363" y="380" width="73" height="20" fill="#26a69a"/>
<text x="1367" y="394.9" font-size="15.6" fill="#fff" stroke="#fff" stroke-width="0.45" textLength="59.0" lengthAdjust="spacingAndGlyphs">03:02:42</text>
<rect x="1317" y="612.7" width="36" height="21" fill="#9015a3"/>
<text x="1327.5" y="627.8" font-size="15.6" fill="#fff" textLength="18.6" lengthAdjust="spacingAndGlyphs">RSI</text>
<rect x="1355" y="612.7" width="58" height="21" fill="#9015a3"/>
<line x1="1355" y1="623.2" x2="1360" y2="623.2" stroke="#fff" stroke-width="1"/>
<text x="1365.5" y="627.8" font-size="15.6" fill="#fff" stroke="#fff" stroke-width="0.45" textLength="36.6" lengthAdjust="spacingAndGlyphs">53.04</text>
<rect x="1375.5" y="14.5" width="39" height="24" rx="4" fill="#fff" stroke="#d9dce3" stroke-width="1"/>
<text x="1395" y="30.4" font-size="13.8" fill="#222" text-anchor="middle">ZAR</text>
<line x1="1355" y1="722.5" x2="1436" y2="722.5" stroke="#d6d9e0" stroke-width="1"/>
<line x1="42.5" y1="723" x2="42.5" y2="727" stroke="#c8cbd2" stroke-width="1"/>
<text x="42.5" y="746.8" font-size="14" fill="#222" text-anchor="middle">Apr</text>
<line x1="163.5" y1="723" x2="163.5" y2="727" stroke="#c8cbd2" stroke-width="1"/>
<text x="163.5" y="746.8" font-size="14" fill="#222" text-anchor="middle">May</text>
<line x1="279.5" y1="723" x2="279.5" y2="727" stroke="#c8cbd2" stroke-width="1"/>
<text x="279.5" y="746.8" font-size="14" fill="#222" text-anchor="middle">Jun</text>
<line x1="400.5" y1="723" x2="400.5" y2="727" stroke="#c8cbd2" stroke-width="1"/>
<text x="400.5" y="746.8" font-size="14" fill="#222" text-anchor="middle">Jul</text>
<line x1="526.5" y1="723" x2="526.5" y2="727" stroke="#c8cbd2" stroke-width="1"/>
<text x="526.5" y="746.8" font-size="14" fill="#222" text-anchor="middle">Aug</text>
<line x1="642.5" y1="723" x2="642.5" y2="727" stroke="#c8cbd2" stroke-width="1"/>
<text x="642.5" y="746.8" font-size="14" fill="#222" text-anchor="middle">Sep</text>
<line x1="763.5" y1="723" x2="763.5" y2="727" stroke="#c8cbd2" stroke-width="1"/>
<text x="763.5" y="746.8" font-size="14" fill="#222" text-anchor="middle">Oct</text>
<line x1="884.5" y1="723" x2="884.5" y2="727" stroke="#c8cbd2" stroke-width="1"/>
<text x="884.5" y="746.8" font-size="14" fill="#222" text-anchor="middle">Nov</text>
<line x1="1000.5" y1="723" x2="1000.5" y2="727" stroke="#c8cbd2" stroke-width="1"/>
<text x="1000.5" y="746.8" font-size="14" fill="#222" text-anchor="middle">Dec</text>
<line x1="1121.5" y1="723" x2="1121.5" y2="727" stroke="#c8cbd2" stroke-width="1"/>
<text x="1121.5" y="746.8" font-size="14" fill="#222" text-anchor="middle" font-weight="bold">2021</text>
<line x1="1231.5" y1="723" x2="1231.5" y2="727" stroke="#c8cbd2" stroke-width="1"/>
<text x="1231.5" y="746.8" font-size="14" fill="#222" text-anchor="middle">Feb</text>
<line x1="1342.5" y1="723" x2="1342.5" y2="727" stroke="#c8cbd2" stroke-width="1"/>
<text x="1342.5" y="746.8" font-size="14" fill="#222" text-anchor="middle">Mar</text>
<text x="14.4" y="31.8" font-size="14.6" font-weight="bold" fill="#131722" letter-spacing="0.45">GBP/ZAR, 1D,</text>
<rect x="3.5" y="5.5" width="1433" height="753" fill="none" stroke="#000" stroke-width="1"/>
<rect x="818.5" y="88" width="400" height="60" fill="#fff"/>
<g fill="#083a4f">
<path d="M821,90.3 H866.4 V104 H836.6 V114 H863.6 V126.8 H836.6 V147.4 H821 Z"/>
<path d="M943.1,90.5 H972 C986,90.5 994,98 994,110 C994,120 988.5,126.5 982.3,128.5 L995.4,147 H977.4 L965.5,130 H958.7 V147 H943.1 Z M958.7,104.2 V118.1 H972 C977,118.1 979,115 979,111.1 C979,107.2 977,104.2 972,104.2 Z" fill-rule="evenodd"/>
<path d="M1002.3,90.5 H1048.1 V103.8 H1017.8 V112.5 H1045.2 V124.6 H1017.8 V134.1 H1048.4 V147 H1002.3 Z"/>
<path d="M1054.8,90.5 H1072.6 L1082.6,105.9 L1092.2,90.5 H1110 L1091.7,118.7 L1110.9,147 H1097 L1082.6,130.8 L1071.4,147 H1054 L1073,118.7 Z"/>
<circle cx="1120.2" cy="127.2" r="4.3"/>
<path d="M1149.5,113.5 A12,12 0 1 0 1149.5,126.5 L1143.5,123 A5,5 0 1 1 1143.5,117 Z"/>
<path d="M1164,107.8 A12.3,12.2 0 1 0 1164,132.2 A12.3,12.2 0 1 0 1164,107.8 Z M1164,114.8 A5.2,5.2 0 1 1 1164,125.2 A5.2,5.2 0 1 1 1164,114.8 Z" fill-rule="evenodd"/>
<path d="M1180.2,109.1 H1187.8 V111.5 C1189.5,109.3 1192,108.1 1194.5,108.1 C1197.5,108.1 1200,109.5 1201.3,111.8 C1203,109.4 1206,108.1 1209,108.1 C1214,108.1 1217.1,111.5 1217.1,117 V131.5 H1209.5 V118.5 C1209.5,116 1208.3,114.8 1206.3,114.8 C1204,114.8 1202.2,116.3 1202.2,119 V131.5 H1194.7 V118.5 C1194.7,116 1193.5,114.8 1191.5,114.8 C1189.3,114.8 1187.8,116.3 1187.8,119 V131.5 H1180.2 Z"/>
</g>
<g fill="#0db35a">
<path d="M900.4,89 A29.4,29.5 0 1 0 900.4,148 A29.4,29.5 0 1 0 900.4,89 Z M900.4,97 A12.7,22.1 0 1 1 900.4,141.2 A12.7,22.1 0 1 1 900.4,97 Z" fill-rule="evenodd"/>
<path d="M905.3,112.1 H938 L936,116.8 H903.2 Z"/>
<path d="M903.2,122.5 H936.5 L934.5,127.7 H901.2 Z"/>
</g>
<g fill="#2196f3">
<path d="M6.5,791 C3.5,791 2.8,788 2.8,785.5 C2.8,781.5 5.5,779 9.5,778.8 C10.5,774.5 13.5,772 17,772 C21,772 23.5,774.5 24.5,777.5 C26,776.8 27.5,777 29,778 C30.5,779 31,780 31.2,781 C33.5,781.5 35,783.5 35,786 C35,789 33,791 30.5,791 Z"/>
</g>
<polyline points="4.8,787.8 15,779.3 22.6,786.5 30,778.7" fill="none" stroke="#fff" stroke-width="1.3"/>
<circle cx="15" cy="779.5" r="1.8" fill="#fff"/>
<circle cx="22.6" cy="786.5" r="1.8" fill="#fff"/>
<text x="37" y="786.7" font-size="15" fill="#131722" letter-spacing="0.65">TradingView</text>
</svg>
</body></html>
